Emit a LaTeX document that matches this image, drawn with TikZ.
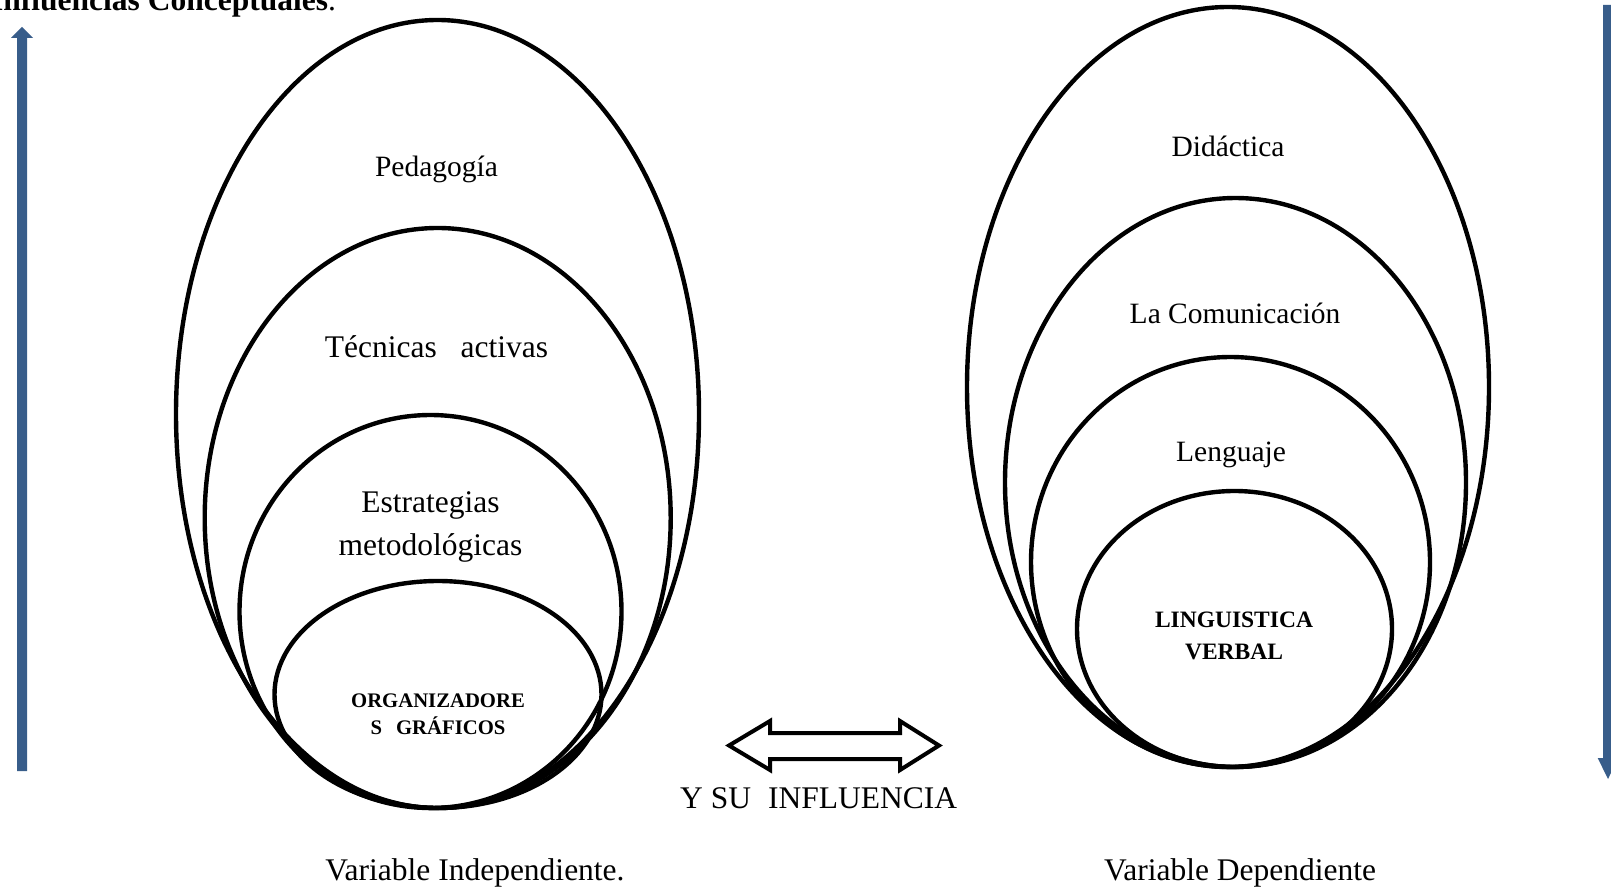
\documentclass[tikz,border=0pt]{standalone}
\usepackage{fontspec}
\setmainfont{Liberation Serif}
\usetikzlibrary{shapes.geometric}
\definecolor{arrowblue}{RGB}{56,93,138}
\begin{document}
\begin{tikzpicture}[x=1pt,y=-1pt,
  ell/.style={draw=black, line width=4.4pt, ellipse, inner sep=0pt, outer sep=0pt},
  lbl/.style={inner sep=0pt, anchor=base, font=\fontsize{29.5}{34}\selectfont},
  lblbig/.style={inner sep=0pt, anchor=base, font=\fontsize{31.5}{36}\selectfont},
  lblbold/.style={inner sep=0pt, anchor=base, font=\bfseries\fontsize{20.7}{26}\selectfont},
  lblboldb/.style={inner sep=0pt, anchor=base, font=\bfseries\fontsize{23.5}{28}\selectfont},
  bluearrow/.style={fill=arrowblue, draw=none}]
\useasboundingbox (0,0) rectangle (1611,888);

% title
\node[inner sep=0pt, anchor=base west, font=\fontsize{31.5}{36}\selectfont] (title) at (-9,11) {\textbf{Influencias Conceptuales}.};

% blue arrows
\fill[bluearrow] (17,771) -- (17,38) -- (11,38) -- (22,27) -- (33,38) -- (27,38) -- (27,771) -- cycle;
\fill[bluearrow] (1603,5) -- (1603,758) -- (1597.7,758) -- (1608,779) -- (1618.3,758) -- (1613,758) -- (1613,5) -- cycle;

% left ellipses
\node[ell, minimum width=523pt, minimum height=788pt] (L1) at (437.5,414) {};
\node[ell, minimum width=466pt, minimum height=580pt] (L2) at (437.7,518) {};
\node[ell, minimum width=382pt, minimum height=393pt] (L3) at (430.5,611.5) {};
\node[ell, minimum width=327pt, minimum height=227pt] (L4) at (438,694.5) {};

% right ellipses
\node[ell, minimum width=522pt, minimum height=760pt] (R1) at (1228,387) {};
\node[ell, minimum width=461pt, minimum height=569pt] (R2) at (1235.5,482.5) {};
\node[ell, minimum width=399pt, minimum height=410pt] (R3) at (1230.5,562) {};
\node[ell, minimum width=315pt, minimum height=276pt] (R4) at (1234.5,629) {};

% left labels
\node[lbl] (tPed) at (436.5,176) {Pedagogía};
\node[lblbig] (tTec) at (436.5,357.5) {Técnicas\hspace*{24pt}activas};
\node[lblbig] (tEst1) at (430.5,512) {Estrategias};
\node[lblbig] (tEst2) at (430.5,555) {metodológicas};
\node[lblbold] (tOrg1) at (438,707) {ORGANIZADORE};
\node[lblbold] (tOrg2) at (438,734) {S\hspace*{14pt}GRÁFICOS};

% right labels
\node[lbl] (tDid) at (1228,157) {Didáctica};
\node[lbl] (tCom) at (1235,323) {La Comunicación};
\node[lbl] (tLen) at (1231,461) {Lenguaje};
\node[lblboldb] (tLin1) at (1234,627) {LINGUISTICA};
\node[lblboldb] (tLin2) at (1234,659) {VERBAL};

% double arrow
\draw[line width=4pt, line join=miter] (729,745.5) -- (770,721) -- (770,733) -- (900,733) -- (900,721) -- (939,745.5) -- (900,770) -- (900,759) -- (770,759) -- (770,770) -- cycle;
\node[inner sep=0pt, anchor=base west, font=\fontsize{31.5}{36}\selectfont] (tInf) at (680,808.5) {Y SU\hspace*{17pt}INFLUENCIA};

% bottom captions
\node[lblbig] (tVarI) at (475,880) {Variable Independiente.};
\node[lblbig] (tVarD) at (1240,880) {Variable Dependiente};
\end{tikzpicture}
\end{document}
